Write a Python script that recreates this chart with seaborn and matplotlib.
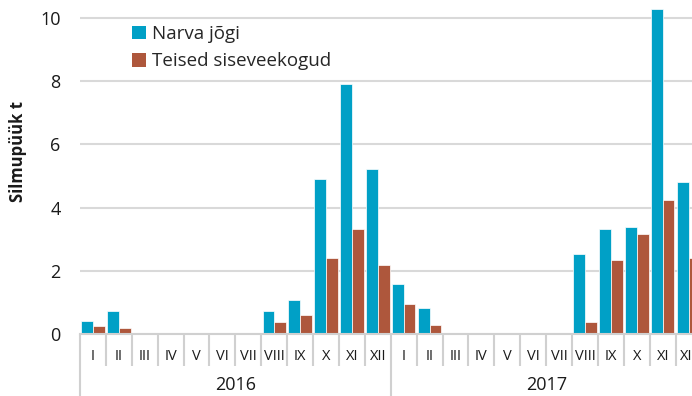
import matplotlib
matplotlib.use("Agg")
import matplotlib.pyplot as plt
import matplotlib.transforms as mtransforms
from matplotlib.patches import Patch
import seaborn as sns
import pandas as pd

# Monthly catch (tonnes) by water body
years = ["2016", "2017"]
months = ["I", "II", "III", "IV", "V", "VI", "VII", "VIII", "IX", "X", "XI", "XII"]
narva_2016 = [0.42, 0.74, 0, 0, 0, 0, 0.02, 0.74, 1.09, 4.91, 7.91, 5.22]
narva_2017 = [1.59, 0.81, 0, 0, 0, 0, 0.03, 2.53, 3.31, 3.39, 10.27, 4.81]
teised_2016 = [0.26, 0.19, 0, 0, 0, 0, 0, 0.38, 0.60, 2.41, 3.33, 2.19]
teised_2017 = [0.95, 0.28, 0, 0, 0, 0, 0, 0.38, 2.35, 3.18, 4.24, 2.42]
series = ["Narva jõgi", "Teised siseveekogud"]
colors = ["#00A0C6", "#AE573C"]

periods = [f"{y} {m}" for y in years for m in months]
rows = []
for name, vals in zip(series, [narva_2016 + narva_2017, teised_2016 + teised_2017]):
    for p, v in zip(periods, vals):
        rows.append({"periood": p, "t": v, "seeria": name})
df = pd.DataFrame(rows)

sns.set_theme(style="white")
plt.rcParams["font.family"] = ["Open Sans", "DejaVu Sans"]

W, H = 692, 396
fig = plt.figure(figsize=(W / 100, H / 100), dpi=100)
cat_w = 25.9
ax = fig.add_axes([80 / W, (H - 334) / H, 24 * cat_w / W, 334 / H])

sns.barplot(data=df, x="periood", y="t", hue="seeria", order=periods,
            hue_order=series, palette=colors, saturation=1, width=0.9, ax=ax,
            edgecolor="white", linewidth=0.5, legend=False)

ax.set_ylim(0, 334 / 31.6)
ax.set_xlim(-0.5, 23.5)
ax.set_yticks([0, 2, 4, 6, 8, 10])
ax.set_yticklabels(["0", "2", "4", "6", "8", "10"], fontsize=13, color="#1a1a1a")
ax.yaxis.grid(True, color="#d9d9d9", linewidth=1.5)
ax.set_axisbelow(True)
for s in ["left", "right", "top"]:
    ax.spines[s].set_visible(False)
ax.spines["bottom"].set_color("#d0d0d0")
ax.spines["bottom"].set_linewidth(1.5)
ax.tick_params(axis="y", length=0, pad=14)
ax.set_xticks(range(24))
ax.set_xticklabels(months * 2, fontsize=10.5, color="#1a1a1a")
ax.tick_params(axis="x", length=0, pad=11)
ax.set_xlabel("")
ax.set_ylabel("")

# Category separators and year groups below the axis
trans = mtransforms.blended_transform_factory(ax.transData, ax.transAxes)
px = 1 / 334
for k in range(25):
    x = k - 0.5
    depth = 62 if k in (0, 12, 24) else 32
    ax.plot([x, x], [0, -depth * px], transform=trans, color="#d0d0d0",
            linewidth=1.5, clip_on=False, solid_capstyle="butt")
for i, y in enumerate(years):
    ax.text(5.5 + 12 * i, -51 * px, y, transform=trans, ha="center",
            va="center", fontsize=13, color="#1a1a1a")

fig.text(18 / W, 1 - 152 / H, "Silmupüük t", rotation=90, ha="center",
         va="center", fontsize=12, fontweight="bold", color="#1a1a1a")

handles = [Patch(facecolor=c, edgecolor="none") for c in colors]
fig.legend(handles, series, loc="upper left",
           bbox_to_anchor=(132 / W, 1 - 25 / H), frameon=False,
           fontsize=13.5, handlelength=0.72, handleheight=0.72,
           handletextpad=0.35, labelspacing=0.5, borderpad=0,
           borderaxespad=0)

fig.savefig("out.png", dpi=100)
